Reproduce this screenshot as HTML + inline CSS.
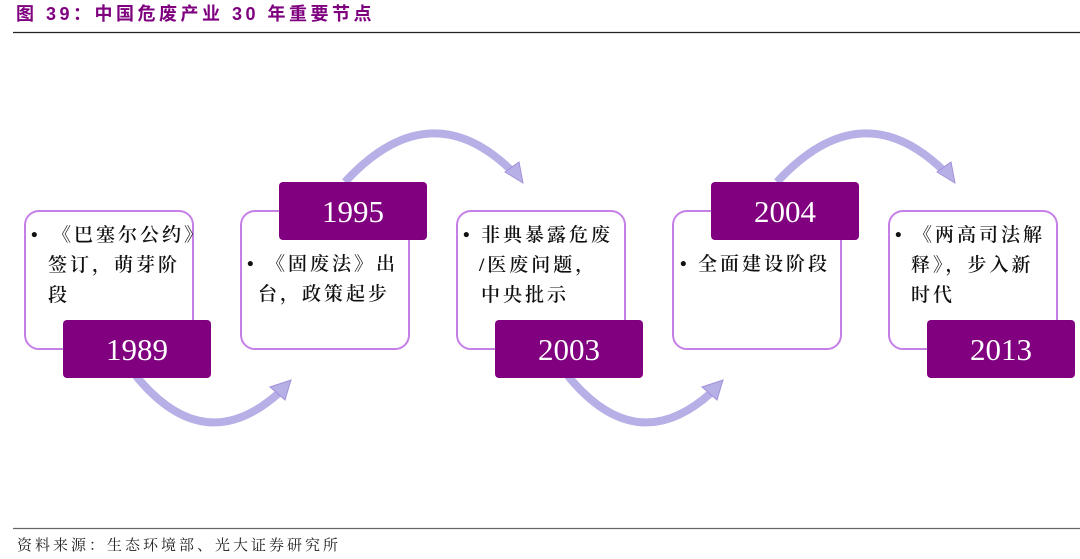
<!DOCTYPE html>
<html><head><meta charset="utf-8"><style>
body{margin:0;background:#fff;width:1080px;height:559px;overflow:hidden}
svg{display:block}
.h{font-family:"Liberation Sans","Noto Sans CJK SC",sans-serif;font-weight:bold;font-size:18px;fill:#7f007f;letter-spacing:3.5px}
.t{font-family:"Liberation Serif","Noto Serif CJK SC",serif;font-size:19px;fill:#111;font-weight:600;letter-spacing:3px}
.y{font-family:"Liberation Serif",serif;font-size:31px;fill:#fff;text-anchor:middle}
.f{font-family:"Liberation Serif","Noto Serif CJK SC",serif;font-size:15px;fill:#222;letter-spacing:3px}
.arc{fill:none;stroke:#b7b0e6;stroke-width:8}
.ah{fill:#b7b0e6;stroke:#a590da;stroke-width:1}
.box{fill:#fff;stroke:#c77fe8;stroke-width:2}
.lab{fill:#800080}
</style></head><body>
<svg width="1080" height="559" xmlns="http://www.w3.org/2000/svg">
<text x="16" y="20" class="h">图 39：中国危废产业 30 年重要节点</text>
<line x1="13" y1="32.5" x2="1080" y2="32.5" stroke="#222" stroke-width="1.2"/>
<line x1="13" y1="528.5" x2="1080" y2="528.5" stroke="#666" stroke-width="1.2"/>
<text x="17" y="550" class="f">资料来源：生态环境部、光大证券研究所</text>

<path class="arc" d="M136,376 Q205,460 280,392"/>
<polygon class="ah" points="291,380 270,387 285,400"/>
<path class="arc" d="M345,182 Q430,90 513,172"/>
<polygon class="ah" points="523,183 505,172 519,162"/>
<path class="arc" d="M568,376 Q637,460 712,392"/>
<polygon class="ah" points="723,380 702,387 717,400"/>
<path class="arc" d="M777,182 Q862,90 945,172"/>
<polygon class="ah" points="955,183 937,172 951,162"/>

<rect class="box" x="25" y="211" width="168" height="138" rx="14"/>
<rect class="box" x="241" y="211" width="168" height="138" rx="14"/>
<rect class="box" x="457" y="211" width="168" height="138" rx="14"/>
<rect class="box" x="673" y="211" width="168" height="138" rx="14"/>
<rect class="box" x="889" y="211" width="168" height="138" rx="14"/>

<rect class="lab" x="63" y="320" width="148" height="58" rx="4"/>
<rect class="lab" x="279" y="182" width="148" height="58" rx="4"/>
<rect class="lab" x="495" y="320" width="148" height="58" rx="4"/>
<rect class="lab" x="711" y="182" width="148" height="58" rx="4"/>
<rect class="lab" x="927" y="320" width="148" height="58" rx="4"/>

<text x="137" y="360" class="y">1989</text>
<text x="353" y="222" class="y">1995</text>
<text x="569" y="360" class="y">2003</text>
<text x="785" y="222" class="y">2004</text>
<text x="1001" y="360" class="y">2013</text>

<g class="t">
<text x="31" y="241">•</text><text x="52" y="241">《巴塞尔公约》</text>
<text x="48" y="271">签订，萌芽阶</text>
<text x="48" y="301">段</text>

<text x="247" y="270">•</text><text x="266" y="270">《固废法》出</text>
<text x="258" y="300">台，政策起步</text>

<text x="463" y="241">•</text><text x="481" y="241">非典暴露危废</text>
<text x="479" y="271">/医废问题，</text>
<text x="481" y="301">中央批示</text>

<text x="680" y="270">•</text><text x="698" y="270">全面建设阶段</text>

<text x="895" y="241">•</text><text x="913" y="241">《两高司法解</text>
<text x="911" y="271">释》，步入新</text>
<text x="911" y="301">时代</text>
</g>
</svg>
</body></html>
